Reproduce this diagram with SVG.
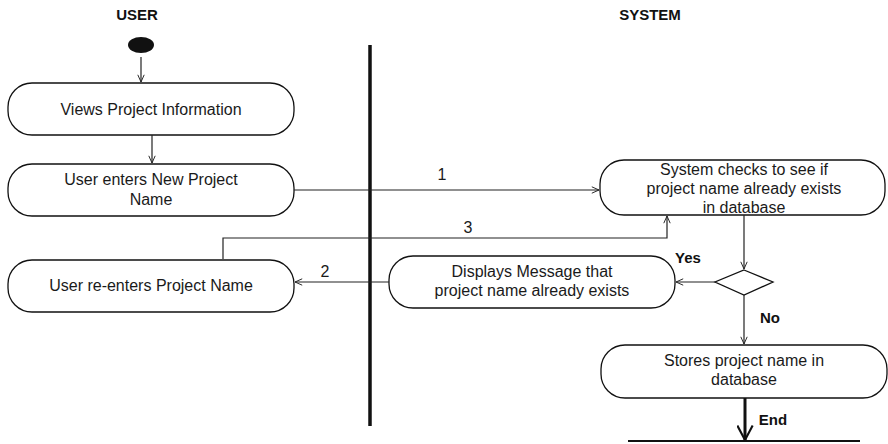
<svg xmlns="http://www.w3.org/2000/svg" width="888" height="444" viewBox="0 0 888 444">
<defs>
<style>
.node{fill:#fff;stroke:#111;stroke-width:1.3}
.t{font-family:"Liberation Sans",Arial,sans-serif;font-size:16px;fill:#1a1a1a;text-anchor:middle}
.b{font-family:"Liberation Sans",Arial,sans-serif;font-size:15px;font-weight:bold;fill:#111;text-anchor:middle}
.c{fill:none;stroke:#222;stroke-width:1.2}
</style>
<marker id="arr" viewBox="0 0 10 10" refX="10" refY="5" markerWidth="8" markerHeight="8" markerUnits="userSpaceOnUse" orient="auto">
<polyline points="1,1 10,5 1,9" fill="none" stroke="#222" stroke-width="1.2"/>
</marker>
<marker id="arrBig" viewBox="0 0 20 20" refX="19" refY="10" markerWidth="17" markerHeight="17" markerUnits="userSpaceOnUse" orient="auto">
<polyline points="2,1 19,10 2,19" fill="none" stroke="#111" stroke-width="2.5"/>
</marker>
</defs>
<rect width="888" height="444" fill="#fff"/>
<g id="lanes">
<text class="b" x="137" y="20">USER</text>
<text class="b" x="650" y="20">SYSTEM</text>
<line x1="370" y1="45" x2="370" y2="426" stroke="#111" stroke-width="3.5"/>
</g>
<g id="start"><ellipse cx="141" cy="45" rx="13" ry="8" fill="#111"/></g>
<g id="n1"><rect class="node" x="8" y="83" width="286" height="52" rx="24"/><text class="t" x="151" y="115">Views Project Information</text></g>
<g id="n2"><rect class="node" x="8" y="164" width="286" height="52" rx="24"/><text class="t" x="151" y="185">User enters New Project</text><text class="t" x="151" y="205">Name</text></g>
<g id="n3"><rect class="node" x="8" y="260" width="286" height="52" rx="24"/><text class="t" x="151" y="291">User re-enters Project Name</text></g>
<g id="n4"><rect class="node" x="600" y="160" width="285" height="55" rx="24"/><text class="t" x="744" y="175">System checks to see if</text><text class="t" x="744" y="194">project name already exists</text><text class="t" x="744" y="213">in database</text></g>
<g id="n5"><rect class="node" x="389" y="256" width="286" height="52" rx="24"/><text class="t" x="532" y="277">Displays Message that</text><text class="t" x="532" y="296">project name already exists</text></g>
<g id="decision"><polygon class="node" points="744,270 773,282 744,295 715,282"/></g>
<g id="n6"><rect class="node" x="601" y="345" width="286" height="53" rx="24"/><text class="t" x="744" y="366">Stores project name in</text><text class="t" x="744" y="385">database</text></g>
<g id="end"><line x1="628" y1="441" x2="860" y2="441" stroke="#111" stroke-width="2"/></g>
<g id="connectors">
<line class="c" x1="141" y1="57" x2="141" y2="82" marker-end="url(#arr)"/>
<line class="c" x1="152" y1="135" x2="152" y2="163" marker-end="url(#arr)"/>
<line class="c" x1="294" y1="190" x2="599" y2="190" marker-end="url(#arr)"/>
<polyline class="c" points="223,259 223,238 667,238 667,216" marker-end="url(#arr)"/>
<line class="c" x1="744" y1="215" x2="744" y2="269" marker-end="url(#arr)"/>
<line class="c" x1="715" y1="282" x2="676" y2="282" marker-end="url(#arr)"/>
<line class="c" x1="389" y1="282" x2="295" y2="282" marker-end="url(#arr)"/>
<line class="c" x1="744" y1="295" x2="744" y2="344" marker-end="url(#arr)"/>
<line x1="745" y1="398" x2="745" y2="440" stroke="#111" stroke-width="3" marker-end="url(#arrBig)"/>
<text class="t" x="442" y="180">1</text>
<text class="t" x="468" y="233">3</text>
<text class="t" x="325" y="277">2</text>
<text class="b" x="688" y="263">Yes</text>
<text class="b" x="770" y="323">No</text>
<text class="b" x="773" y="425">End</text>
</g>
</svg>
